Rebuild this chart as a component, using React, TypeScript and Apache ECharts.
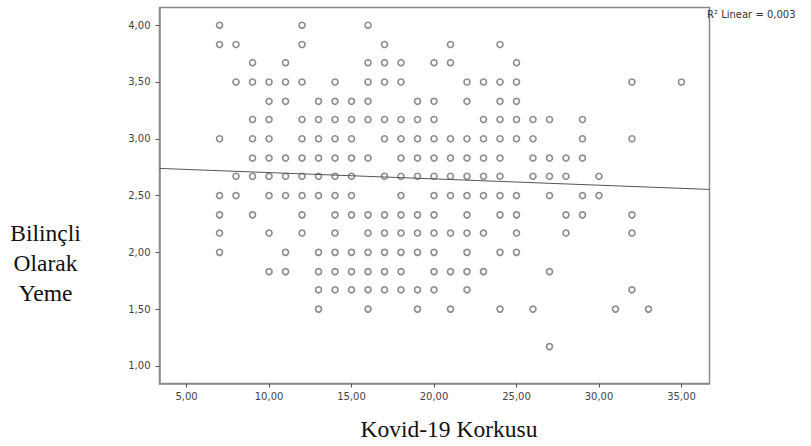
import React, { useEffect, useRef } from "react";
import * as echarts from "echarts";

// Bilinçli Olarak Yeme levels (y) and the Kovid-19 Korkusu scores (x) found on each level
const yLevels = [4.0, 3.83, 3.67, 3.5, 3.33, 3.17, 3.0, 2.83, 2.67, 2.5, 2.33, 2.17, 2.0, 1.83, 1.67, 1.5, 1.17];
const x400 = [7, 12, 16];
const x383 = [7, 8, 12, 17, 21, 24];
const x367 = [9, 11, 16, 17, 18, 20, 21, 25];
const x350 = [8, 9, 10, 11, 12, 14, 16, 17, 18, 22, 23, 24, 25, 32, 35];
const x333 = [10, 11, 13, 14, 15, 16, 19, 20, 22, 24, 25];
const x317 = [9, 10, 12, 13, 14, 15, 16, 17, 18, 19, 20, 23, 24, 25, 26, 27, 29];
const x300 = [7, 9, 10, 12, 13, 14, 15, 17, 18, 19, 20, 21, 22, 23, 24, 25, 26, 29, 32];
const x283 = [9, 10, 11, 12, 13, 14, 15, 16, 18, 19, 20, 21, 22, 23, 24, 26, 27, 28, 29];
const x267 = [8, 9, 10, 11, 12, 13, 14, 15, 17, 18, 19, 20, 21, 22, 23, 24, 26, 27, 28, 30];
const x250 = [7, 8, 10, 11, 12, 13, 14, 15, 18, 20, 21, 22, 23, 24, 25, 27, 29, 30];
const x233 = [7, 9, 12, 14, 15, 16, 17, 18, 19, 20, 22, 24, 25, 28, 29, 32];
const x217 = [7, 10, 12, 14, 16, 17, 18, 19, 20, 21, 22, 23, 25, 28, 32];
const x200 = [7, 11, 13, 14, 15, 16, 17, 18, 19, 20, 22, 24, 25];
const x183 = [10, 11, 13, 14, 15, 16, 17, 18, 20, 21, 22, 23, 27];
const x167 = [13, 14, 15, 16, 17, 18, 19, 20, 22, 32];
const x150 = [13, 16, 19, 21, 24, 26, 31, 33];
const x117 = [27];
const rowsX = [x400, x383, x367, x350, x333, x317, x300, x283, x267, x250, x233, x217, x200, x183, x167, x150, x117];

// Fit line end points (read at the plot edges)
const fitLine = [
  [3.36, 2.739],
  [36.7, 2.554],
];
const r2Text = "R² Linear = 0,003";

const xTicks = [5, 10, 15, 20, 25, 30, 35];
const yTicks = [1, 1.5, 2, 2.5, 3, 3.5, 4];
const xRange = [3.36, 36.7];
const yRange = [0.845, 4.156];

const xTitle = "Kovid-19 Korkusu";
const yTitle = "Bilinçli\nOlarak\nYeme";

const fmt = (v: number) => v.toFixed(2).replace(".", ",");

export default function App() {
  const ref = useRef<HTMLDivElement>(null);
  useEffect(() => {
    if (!ref.current) return;
    const chart = echarts.init(ref.current, undefined, { renderer: "svg" });
    const points: number[][] = [];
    rowsX.forEach((xs, i) => xs.forEach((x) => points.push([x, yLevels[i]])));
    const axisColor = "#8a8a8a";
    const serif = "'Liberation Serif', 'Times New Roman', serif";
    const sans = "'DejaVu Sans', sans-serif";
    chart.setOption({
      animation: false,
      backgroundColor: "#ffffff",
      grid: {
        left: 159.5,
        top: 7.5,
        width: 550,
        height: 376,
        show: true,
        borderColor: axisColor,
        borderWidth: 1.5,
        backgroundColor: "transparent",
      },
      xAxis: {
        type: "value",
        min: xRange[0],
        max: xRange[1],
        splitLine: { show: false },
        axisLine: { show: true, lineStyle: { color: axisColor, width: 1.5 } },
        axisTick: { show: true, length: 4, inside: false, customValues: xTicks, lineStyle: { color: "#555" } },
        axisLabel: {
          customValues: xTicks,
          formatter: (v: number) => fmt(v),
          margin: 8,
          fontSize: 10,
          fontFamily: sans,
          color: "#444",
        },
      },
      yAxis: {
        type: "value",
        min: yRange[0],
        max: yRange[1],
        splitLine: { show: false },
        axisLine: { show: true, lineStyle: { color: axisColor, width: 1.5 } },
        axisTick: { show: true, length: 4, inside: false, customValues: yTicks, lineStyle: { color: "#555" } },
        axisLabel: {
          customValues: yTicks,
          formatter: (v: number) => fmt(v),
          margin: 9,
          fontSize: 10,
          fontFamily: sans,
          color: "#444",
        },
      },
      series: [
        {
          type: "scatter",
          data: points,
          symbol: "circle",
          symbolSize: 6,
          itemStyle: { color: "#ffffff", borderColor: "#6e6e6e", borderWidth: 1.6 },
          emphasis: { disabled: true },
          z: 2,
        },
        {
          type: "line",
          data: fitLine,
          showSymbol: false,
          lineStyle: { color: "#555555", width: 1 },
          emphasis: { disabled: true },
          z: 3,
        },
      ],
      graphic: [
        {
          type: "text",
          x: 449,
          y: 429,
          style: {
            text: xTitle,
            textAlign: "center",
            textVerticalAlign: "middle",
            font: `23.5px ${serif}`,
            fill: "#111",
          },
        },
        {
          type: "text",
          x: 45.5,
          y: 263,
          style: {
            text: yTitle,
            textAlign: "center",
            textVerticalAlign: "middle",
            font: `23.5px ${serif}`,
            lineHeight: 30,
            fill: "#111",
          },
        },
        {
          type: "text",
          x: 707,
          y: 14,
          style: {
            text: r2Text,
            textAlign: "left",
            textVerticalAlign: "middle",
            font: `10px ${sans}`,
            fill: "#333",
          },
        },
      ],
    });
    return () => chart.dispose();
  }, []);
  return <div ref={ref} style={{ position: "absolute", left: 0, top: 0, width: 811, height: 446 }} />;
}
